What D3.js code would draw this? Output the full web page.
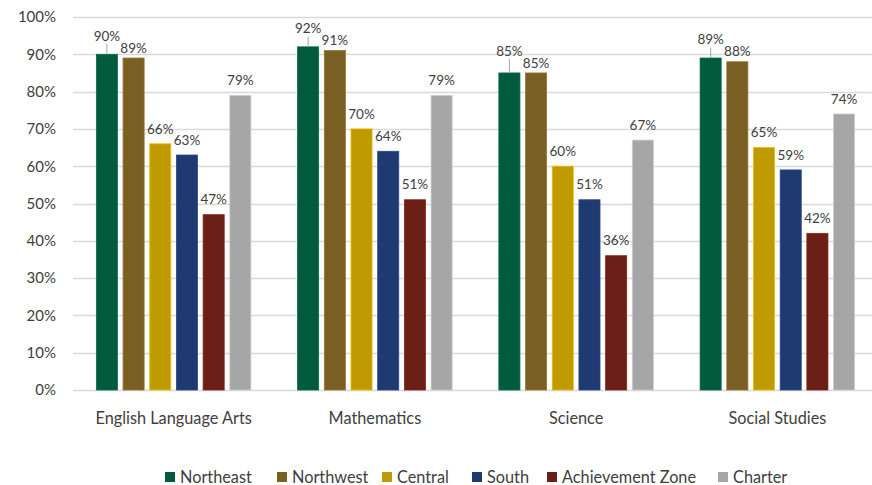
<!DOCTYPE html>
<html>
<head>
<meta charset="utf-8">
<script src="https://cdnjs.cloudflare.com/ajax/libs/d3/7.8.5/d3.min.js"></script>
<style>
  body { margin: 0; background: #fff; overflow: hidden; }
  text { font-family: Lato, "Open Sans", sans-serif; fill: #404040; }
</style>
</head>
<body>
<div class="svg_container"></div>
<script>
// Chart data
var subjects = ["English Language Arts", "Mathematics", "Science", "Social Studies"];
var regions = ["Northeast", "Northwest", "Central", "South", "Achievement Zone", "Charter"];
var regionColors = ["#005a3c", "#7a5f24", "#bf9a00", "#1f3a70", "#6b1f16", "#a6a6a6"];

var northeast = [0.90, 0.92, 0.85, 0.89];
var northwest = [0.89, 0.91, 0.85, 0.88];
var central = [0.66, 0.70, 0.60, 0.65];
var south = [0.63, 0.64, 0.51, 0.59];
var achievementZone = [0.47, 0.51, 0.36, 0.42];
var charter = [0.79, 0.79, 0.67, 0.74];

var yTicks = [0, 0.1, 0.2, 0.3, 0.4, 0.5, 0.6, 0.7, 0.8, 0.9, 1.0];

var W = 872, H = 485;
var margin = {top: 17, right: -6, bottom: 95, left: 73};

var seriesValues = [northeast, northwest, central, south, achievementZone, charter];
var rows = [];
subjects.forEach(function(s, i) {
    regions.forEach(function(r, j) {
        rows.push({subject: s, region: r, ri: j, value: seriesValues[j][i]});
    });
});

var svg = d3.select("div.svg_container")
    .append("svg")
    .attr("width", W)
    .attr("height", H);

var x0 = d3.scaleBand()
    .domain(subjects)
    .range([margin.left, W - margin.right])
    .padding(0);

var x1 = d3.scaleBand()
    .domain(regions)
    .range([0, x0.bandwidth()])
    .paddingInner(0.21)
    .paddingOuter(0.875);

var y = d3.scaleLinear()
    .domain([0, 1])
    .range([H - margin.bottom, margin.top]);

var fmt = d3.format(".0%");

// gridlines
svg.append("g")
    .selectAll("line")
    .data(yTicks)
    .enter()
    .append("line")
        .attr("x1", margin.left)
        .attr("x2", W - margin.right)
        .attr("y1", function(d) { return Math.round(y(d)) + 0.5; })
        .attr("y2", function(d) { return Math.round(y(d)) + 0.5; })
        .style("stroke", "#d9d9d9")
        .attr("stroke-width", 1.3);

// y axis labels
var yAxis = d3.axisLeft(y).tickValues(yTicks).tickFormat(fmt).tickSize(0).tickPadding(17);
var gy = svg.append("g")
    .attr("transform", "translate(" + margin.left + ",0)")
    .call(yAxis);
gy.select(".domain").remove();
gy.selectAll("text")
    .style("font-size", "15px")
    .style("font-family", "Lato, sans-serif")
    .attr("fill", "#404040");

// x axis labels
var xAxis = d3.axisBottom(x0).tickSize(0).tickPadding(22);
var gx = svg.append("g")
    .attr("transform", "translate(0," + (H - margin.bottom) + ")")
    .call(xAxis);
gx.select(".domain").remove();
gx.selectAll("text")
    .style("font-size", "16.3px")
    .style("font-family", "Lato, sans-serif")
    .attr("fill", "#404040");

// bars
var bars = svg.append("g")
    .selectAll("rect")
    .data(rows)
    .enter()
    .append("rect")
        .attr("x", function(d) { return x0(d.subject) + x1(d.region); })
        .attr("width", x1.bandwidth())
        .attr("y", function(d) { return y(d.value); })
        .attr("height", function(d) { return y(0) - y(d.value); })
        .style("fill", function(d) { return regionColors[d.ri]; })
        .attr("stroke", function(d) { return d3.color(regionColors[d.ri]).brighter(0.6); })
        .attr("stroke-width", 0.8);

// label center y (Northwest sits close, Northeast lifted above it)
function labelCenter(d) {
    if (d.region === "Northwest") return y(d.value) - 10;
    if (d.region === "Northeast") {
        var nw = seriesValues[1][subjects.indexOf(d.subject)];
        return Math.min(y(d.value) - 15, y(nw) - 22);
    }
    return y(d.value) - 15;
}

// leader lines for lifted labels
svg.append("g")
    .selectAll("line")
    .data(rows.filter(function(d) { return d.region === "Northeast" && y(d.value) - (labelCenter(d) + 7) > 3; }))
    .enter()
    .append("line")
        .attr("x1", function(d) { return x0(d.subject) + x1(d.region) + x1.bandwidth() / 2; })
        .attr("x2", function(d) { return x0(d.subject) + x1(d.region) + x1.bandwidth() / 2; })
        .attr("y1", function(d) { return labelCenter(d) + 8; })
        .attr("y2", function(d) { return y(d.value); })
        .style("stroke", "#a6a6a6")
        .attr("stroke-width", 1);

// data labels
svg.append("g")
    .selectAll("text")
    .data(rows)
    .enter()
    .append("text")
        .attr("x", function(d) { return x0(d.subject) + x1(d.region) + x1.bandwidth() / 2; })
        .attr("y", function(d) { return labelCenter(d); })
        .attr("dy", "0.35em")
        .attr("text-anchor", "middle")
        .style("font-size", "13.5px")
        .text(function(d) { return fmt(d.value); });

// legend
var legendX = [165, 277, 382, 472, 547, 718];
var legend = svg.append("g").attr("class", "legend");
regions.forEach(function(r, j) {
    legend.append("rect")
        .attr("x", legendX[j])
        .attr("y", 472)
        .attr("width", 10)
        .attr("height", 10)
        .style("fill", regionColors[j]);
    legend.append("text")
        .attr("x", legendX[j] + 15)
        .attr("y", 477)
        .attr("dy", "0.35em")
        .style("font-size", "16.3px")
        .text(r);
});
</script>
</body>
</html>
